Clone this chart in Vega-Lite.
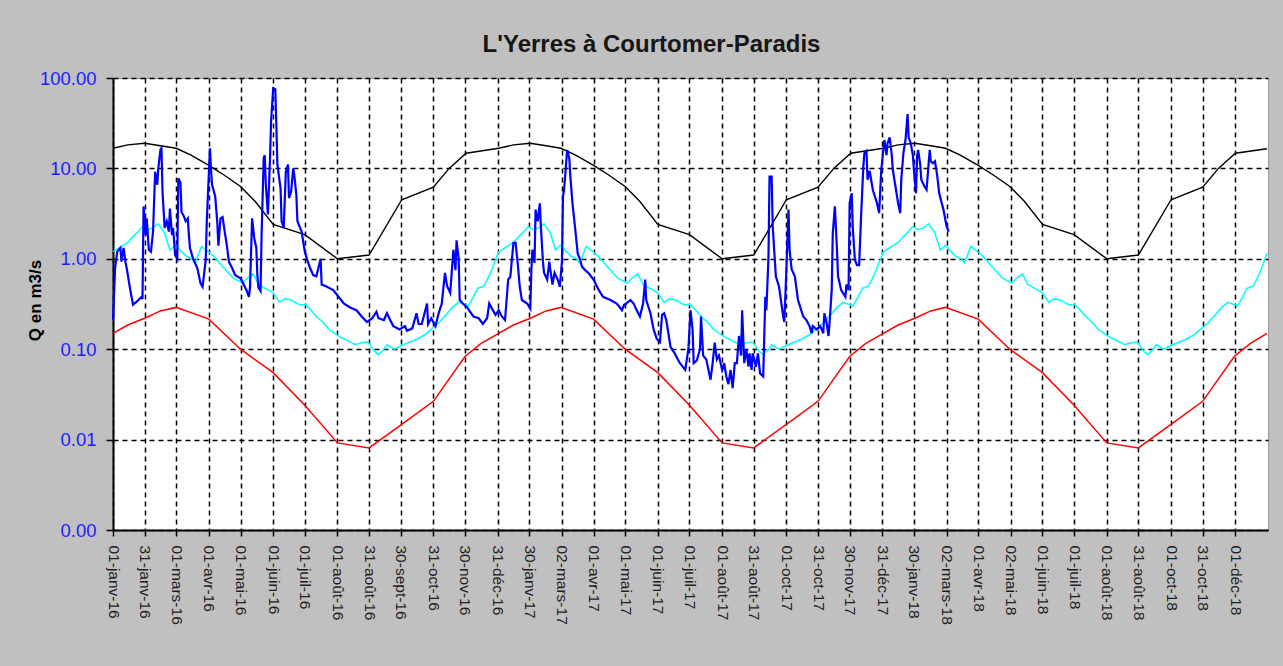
{
"$schema": "https://vega.github.io/schema/vega-lite/v6.json",
"width": 1155, "height": 452,
"autosize": {"type": "none"},
"padding": {"left": 113, "top": 78, "right": 15, "bottom": 136},
"background": "#c0c0c0",
"title": {"text": "L'Yerres à Courtomer-Paradis", "font": "Liberation Sans", "fontSize": 24, "fontWeight": "bold", "color": "#161616", "anchor": "middle", "frame": "group", "dx": -39, "offset": 12},
"config": {
 "view": {"fill": "#ffffff", "stroke": "#9a9a9a", "strokeWidth": 1},
 "font": "Liberation Sans",
 "locale": {"time": {"dateTime": "%A %e %B %Y à %X", "date": "%d/%m/%Y", "time": "%H:%M:%S", "periods": ["AM","PM"], "days": ["dimanche","lundi","mardi","mercredi","jeudi","vendredi","samedi"], "shortDays": ["dim.","lun.","mar.","mer.","jeu.","ven.","sam."], "months": ["janvier","février","mars","avril","mai","juin","juillet","août","septembre","octobre","novembre","décembre"], "shortMonths": ["janv","févr","mars","avr","mai","juin","juil","août","sept","oct","nov","déc"]}}
},
"datasets": {
"maxi": [
{"date":"2016-01-01","q":16.7},{"date":"2016-01-15","q":18.2},{"date":"2016-01-31","q":19},{"date":"2016-02-15","q":17.8},{"date":"2016-03-01","q":16.7},{"date":"2016-03-15","q":14},{"date":"2016-04-01","q":10.8},{"date":"2016-04-15","q":8.5},{"date":"2016-05-01","q":6.3},{"date":"2016-05-15","q":4.3},{"date":"2016-06-01","q":2.4},{"date":"2016-07-01","q":1.85},{"date":"2016-08-01","q":1.0},{"date":"2016-08-31","q":1.1},{"date":"2016-10-01","q":4.5},{"date":"2016-10-31","q":6.2},{"date":"2016-11-15","q":10},{"date":"2016-12-01","q":14.7},
{"date":"2017-01-01","q":16.7},{"date":"2017-01-15","q":18.2},{"date":"2017-01-31","q":19},{"date":"2017-02-15","q":17.8},{"date":"2017-03-01","q":16.7},{"date":"2017-03-15","q":14},{"date":"2017-04-01","q":10.8},{"date":"2017-04-15","q":8.5},{"date":"2017-05-01","q":6.3},{"date":"2017-05-15","q":4.3},{"date":"2017-06-01","q":2.4},{"date":"2017-07-01","q":1.85},{"date":"2017-08-01","q":1.0},{"date":"2017-08-31","q":1.1},{"date":"2017-10-01","q":4.5},{"date":"2017-10-31","q":6.2},{"date":"2017-11-15","q":10},{"date":"2017-12-01","q":14.7},
{"date":"2018-01-01","q":16.7},{"date":"2018-01-15","q":18.2},{"date":"2018-01-31","q":19},{"date":"2018-02-15","q":17.8},{"date":"2018-03-01","q":16.7},{"date":"2018-03-15","q":14},{"date":"2018-04-01","q":10.8},{"date":"2018-04-15","q":8.5},{"date":"2018-05-01","q":6.3},{"date":"2018-05-15","q":4.3},{"date":"2018-06-01","q":2.4},{"date":"2018-07-01","q":1.85},{"date":"2018-08-01","q":1.0},{"date":"2018-08-31","q":1.1},{"date":"2018-10-01","q":4.5},{"date":"2018-10-31","q":6.2},{"date":"2018-11-15","q":10},{"date":"2018-12-01","q":14.7},{"date":"2018-12-31","q":16.5}
],
"mini": [
{"date":"2016-01-01","q":0.15},{"date":"2016-01-15","q":0.185},{"date":"2016-01-31","q":0.22},{"date":"2016-02-15","q":0.265},{"date":"2016-03-01","q":0.29},{"date":"2016-04-01","q":0.215},{"date":"2016-05-01","q":0.1},{"date":"2016-06-01","q":0.055},{"date":"2016-07-01","q":0.024},{"date":"2016-08-01","q":0.0092},{"date":"2016-08-31","q":0.0081},{"date":"2016-10-01","q":0.0147},{"date":"2016-10-31","q":0.0265},{"date":"2016-11-15","q":0.047},{"date":"2016-11-30","q":0.083},{"date":"2016-12-15","q":0.115},
{"date":"2017-01-01","q":0.15},{"date":"2017-01-15","q":0.185},{"date":"2017-01-31","q":0.22},{"date":"2017-02-15","q":0.265},{"date":"2017-03-01","q":0.29},{"date":"2017-04-01","q":0.215},{"date":"2017-05-01","q":0.1},{"date":"2017-06-01","q":0.055},{"date":"2017-07-01","q":0.024},{"date":"2017-08-01","q":0.0092},{"date":"2017-08-31","q":0.0081},{"date":"2017-10-01","q":0.0147},{"date":"2017-10-31","q":0.0265},{"date":"2017-11-15","q":0.047},{"date":"2017-11-30","q":0.083},{"date":"2017-12-15","q":0.115},
{"date":"2018-01-01","q":0.15},{"date":"2018-01-15","q":0.185},{"date":"2018-01-31","q":0.22},{"date":"2018-02-15","q":0.265},{"date":"2018-03-01","q":0.29},{"date":"2018-04-01","q":0.215},{"date":"2018-05-01","q":0.1},{"date":"2018-06-01","q":0.055},{"date":"2018-07-01","q":0.024},{"date":"2018-08-01","q":0.0092},{"date":"2018-08-31","q":0.0081},{"date":"2018-10-01","q":0.0147},{"date":"2018-10-31","q":0.0265},{"date":"2018-11-15","q":0.047},{"date":"2018-11-30","q":0.083},{"date":"2018-12-15","q":0.115},{"date":"2018-12-31","q":0.15}
],
"mediane": [
{"date":"2016-01-01","q":1.2},{"date":"2016-01-06","q":1.3},{"date":"2016-01-11","q":1.42},{"date":"2016-01-16","q":1.55},{"date":"2016-01-20","q":1.76},{"date":"2016-01-25","q":2.0},{"date":"2016-01-29","q":2.27},{"date":"2016-02-03","q":2.1},{"date":"2016-02-08","q":2.2},{"date":"2016-02-13","q":2.44},{"date":"2016-02-19","q":1.92},{"date":"2016-02-24","q":1.25},{"date":"2016-03-01","q":1.42},{"date":"2016-03-06","q":1.2},{"date":"2016-03-11","q":1.06},{"date":"2016-03-16","q":1.0},{"date":"2016-03-19","q":0.9},{"date":"2016-03-25","q":1.37},{"date":"2016-04-02","q":1.16},{"date":"2016-04-06","q":1.05},{"date":"2016-04-11","q":0.9},{"date":"2016-04-17","q":0.75},{"date":"2016-04-24","q":0.61},{"date":"2016-05-03","q":0.54},{"date":"2016-05-08","q":0.62},{"date":"2016-05-13","q":0.68},{"date":"2016-05-18","q":0.52},{"date":"2016-05-22","q":0.49},{"date":"2016-06-01","q":0.42},{"date":"2016-06-07","q":0.33},{"date":"2016-06-12","q":0.36},{"date":"2016-06-18","q":0.35},{"date":"2016-06-26","q":0.31},{"date":"2016-07-02","q":0.31},{"date":"2016-07-07","q":0.27},{"date":"2016-07-12","q":0.23},{"date":"2016-07-18","q":0.2},{"date":"2016-07-24","q":0.165},{"date":"2016-08-03","q":0.138},{"date":"2016-08-10","q":0.125},{"date":"2016-08-18","q":0.112},{"date":"2016-08-24","q":0.118},{"date":"2016-08-30","q":0.12},{"date":"2016-09-05","q":0.095},{"date":"2016-09-09","q":0.087},{"date":"2016-09-14","q":0.1},{"date":"2016-09-17","q":0.112},{"date":"2016-09-24","q":0.1},{"date":"2016-10-01","q":0.11},{"date":"2016-10-07","q":0.118},{"date":"2016-10-15","q":0.128},{"date":"2016-10-23","q":0.145},{"date":"2016-10-30","q":0.17},{"date":"2016-11-05","q":0.195},{"date":"2016-11-12","q":0.24},{"date":"2016-11-18","q":0.29},{"date":"2016-11-24","q":0.33},{"date":"2016-12-03","q":0.3},{"date":"2016-12-08","q":0.38},{"date":"2016-12-12","q":0.47},{"date":"2016-12-18","q":0.5},{"date":"2016-12-23","q":0.65},{"date":"2016-12-27","q":0.85},
{"date":"2017-01-01","q":1.2},{"date":"2017-01-06","q":1.3},{"date":"2017-01-11","q":1.42},{"date":"2017-01-16","q":1.55},{"date":"2017-01-20","q":1.76},{"date":"2017-01-25","q":2.0},{"date":"2017-01-29","q":2.27},{"date":"2017-02-03","q":2.1},{"date":"2017-02-08","q":2.2},{"date":"2017-02-13","q":2.44},{"date":"2017-02-19","q":1.92},{"date":"2017-02-24","q":1.25},{"date":"2017-03-01","q":1.42},{"date":"2017-03-06","q":1.2},{"date":"2017-03-11","q":1.06},{"date":"2017-03-16","q":1.0},{"date":"2017-03-19","q":0.9},{"date":"2017-03-25","q":1.37},{"date":"2017-04-02","q":1.16},{"date":"2017-04-06","q":1.05},{"date":"2017-04-11","q":0.9},{"date":"2017-04-17","q":0.75},{"date":"2017-04-24","q":0.61},{"date":"2017-05-03","q":0.54},{"date":"2017-05-08","q":0.62},{"date":"2017-05-13","q":0.68},{"date":"2017-05-18","q":0.52},{"date":"2017-05-22","q":0.49},{"date":"2017-06-01","q":0.42},{"date":"2017-06-07","q":0.33},{"date":"2017-06-12","q":0.36},{"date":"2017-06-18","q":0.35},{"date":"2017-06-26","q":0.31},{"date":"2017-07-02","q":0.31},{"date":"2017-07-07","q":0.27},{"date":"2017-07-12","q":0.23},{"date":"2017-07-18","q":0.2},{"date":"2017-07-24","q":0.165},{"date":"2017-08-03","q":0.138},{"date":"2017-08-10","q":0.125},{"date":"2017-08-18","q":0.112},{"date":"2017-08-24","q":0.118},{"date":"2017-08-30","q":0.12},{"date":"2017-09-05","q":0.095},{"date":"2017-09-09","q":0.087},{"date":"2017-09-14","q":0.1},{"date":"2017-09-17","q":0.112},{"date":"2017-09-24","q":0.1},{"date":"2017-10-01","q":0.11},{"date":"2017-10-07","q":0.118},{"date":"2017-10-15","q":0.128},{"date":"2017-10-23","q":0.145},{"date":"2017-10-30","q":0.17},{"date":"2017-11-05","q":0.195},{"date":"2017-11-12","q":0.24},{"date":"2017-11-18","q":0.29},{"date":"2017-11-24","q":0.33},{"date":"2017-12-03","q":0.3},{"date":"2017-12-08","q":0.38},{"date":"2017-12-12","q":0.47},{"date":"2017-12-18","q":0.5},{"date":"2017-12-23","q":0.65},{"date":"2017-12-27","q":0.85},
{"date":"2018-01-01","q":1.2},{"date":"2018-01-06","q":1.3},{"date":"2018-01-11","q":1.42},{"date":"2018-01-16","q":1.55},{"date":"2018-01-20","q":1.76},{"date":"2018-01-25","q":2.0},{"date":"2018-01-29","q":2.27},{"date":"2018-02-03","q":2.1},{"date":"2018-02-08","q":2.2},{"date":"2018-02-13","q":2.44},{"date":"2018-02-19","q":1.92},{"date":"2018-02-24","q":1.25},{"date":"2018-03-01","q":1.42},{"date":"2018-03-06","q":1.2},{"date":"2018-03-11","q":1.06},{"date":"2018-03-16","q":1.0},{"date":"2018-03-19","q":0.9},{"date":"2018-03-25","q":1.37},{"date":"2018-04-02","q":1.16},{"date":"2018-04-06","q":1.05},{"date":"2018-04-11","q":0.9},{"date":"2018-04-17","q":0.75},{"date":"2018-04-24","q":0.61},{"date":"2018-05-03","q":0.54},{"date":"2018-05-08","q":0.62},{"date":"2018-05-13","q":0.68},{"date":"2018-05-18","q":0.52},{"date":"2018-05-22","q":0.49},{"date":"2018-06-01","q":0.42},{"date":"2018-06-07","q":0.33},{"date":"2018-06-12","q":0.36},{"date":"2018-06-18","q":0.35},{"date":"2018-06-26","q":0.31},{"date":"2018-07-02","q":0.31},{"date":"2018-07-07","q":0.27},{"date":"2018-07-12","q":0.23},{"date":"2018-07-18","q":0.2},{"date":"2018-07-24","q":0.165},{"date":"2018-08-03","q":0.138},{"date":"2018-08-10","q":0.125},{"date":"2018-08-18","q":0.112},{"date":"2018-08-24","q":0.118},{"date":"2018-08-30","q":0.12},{"date":"2018-09-05","q":0.095},{"date":"2018-09-09","q":0.087},{"date":"2018-09-14","q":0.1},{"date":"2018-09-17","q":0.112},{"date":"2018-09-24","q":0.1},{"date":"2018-10-01","q":0.11},{"date":"2018-10-07","q":0.118},{"date":"2018-10-15","q":0.128},{"date":"2018-10-23","q":0.145},{"date":"2018-10-30","q":0.17},{"date":"2018-11-05","q":0.195},{"date":"2018-11-12","q":0.24},{"date":"2018-11-18","q":0.29},{"date":"2018-11-24","q":0.33},{"date":"2018-12-03","q":0.3},{"date":"2018-12-08","q":0.38},{"date":"2018-12-12","q":0.47},{"date":"2018-12-18","q":0.5},{"date":"2018-12-23","q":0.65},{"date":"2018-12-27","q":0.85},{"date":"2018-12-31","q":1.15}
],
"debit": [
{"date":"2016-01-01","q":0.21},{"date":"2016-01-03","q":0.79},{"date":"2016-01-05","q":1.2},{"date":"2016-01-08","q":1.32},{"date":"2016-01-09","q":0.93},{"date":"2016-01-11","q":1.32},{"date":"2016-01-13","q":0.9},{"date":"2016-01-14","q":0.79},{"date":"2016-01-17","q":0.48},{"date":"2016-01-20","q":0.31},{"date":"2016-01-24","q":0.34},{"date":"2016-01-28","q":0.38},{"date":"2016-01-29","q":0.36},{"date":"2016-01-30","q":3.8},{"date":"2016-02-01","q":1.84},{"date":"2016-02-02","q":2.8},{"date":"2016-02-04","q":1.26},{"date":"2016-02-06","q":1.2},{"date":"2016-02-08","q":2.0},{"date":"2016-02-10","q":9.2},{"date":"2016-02-12","q":6.6},{"date":"2016-02-13","q":10},{"date":"2016-02-15","q":16},{"date":"2016-02-16","q":16.7},{"date":"2016-02-17","q":5.5},{"date":"2016-02-19","q":2.2},{"date":"2016-02-21","q":2.6},{"date":"2016-02-23","q":2.0},{"date":"2016-02-24","q":3.6},{"date":"2016-02-26","q":1.84},{"date":"2016-02-27","q":2.2},{"date":"2016-02-29","q":1.1},{"date":"2016-03-02","q":1.0},{"date":"2016-03-03","q":7.8},{"date":"2016-03-05","q":7.0},{"date":"2016-03-06","q":3.3},{"date":"2016-03-08","q":3.0},{"date":"2016-03-10","q":2.6},{"date":"2016-03-12","q":2.8},{"date":"2016-03-13","q":1.84},{"date":"2016-03-14","q":1.32},{"date":"2016-03-17","q":1.0},{"date":"2016-03-21","q":0.79},{"date":"2016-03-24","q":0.54},{"date":"2016-03-26","q":0.49},{"date":"2016-03-29","q":0.97},{"date":"2016-03-30","q":2.6},{"date":"2016-04-02","q":16.7},{"date":"2016-04-03","q":9.6},{"date":"2016-04-04","q":6.6},{"date":"2016-04-07","q":4.9},{"date":"2016-04-09","q":2.5},{"date":"2016-04-10","q":1.4},{"date":"2016-04-12","q":2.8},{"date":"2016-04-14","q":2.9},{"date":"2016-04-16","q":2.0},{"date":"2016-04-18","q":1.42},{"date":"2016-04-20","q":0.93},{"date":"2016-04-23","q":0.79},{"date":"2016-04-26","q":0.66},{"date":"2016-05-01","q":0.61},{"date":"2016-05-04","q":0.52},{"date":"2016-05-07","q":0.44},{"date":"2016-05-09","q":0.38},{"date":"2016-05-10","q":0.48},{"date":"2016-05-12","q":2.8},{"date":"2016-05-14","q":1.7},{"date":"2016-05-16","q":1.32},{"date":"2016-05-17","q":0.66},{"date":"2016-05-18","q":0.48},{"date":"2016-05-20","q":0.44},{"date":"2016-05-21","q":1.84},{"date":"2016-05-23","q":13},{"date":"2016-05-24","q":14},{"date":"2016-05-25","q":6.6},{"date":"2016-05-27","q":3.1},{"date":"2016-05-29","q":13},{"date":"2016-05-30","q":33},{"date":"2016-06-01","q":77},{"date":"2016-06-03","q":75},{"date":"2016-06-04","q":30},{"date":"2016-06-05","q":11},{"date":"2016-06-08","q":6.0},{"date":"2016-06-09","q":2.6},{"date":"2016-06-11","q":2.2},{"date":"2016-06-13","q":9.2},{"date":"2016-06-15","q":11},{"date":"2016-06-16","q":4.7},{"date":"2016-06-18","q":5.5},{"date":"2016-06-20","q":10},{"date":"2016-06-21","q":8.5},{"date":"2016-06-23","q":5.1},{"date":"2016-06-24","q":2.6},{"date":"2016-06-28","q":2.0},{"date":"2016-07-01","q":1.2},{"date":"2016-07-03","q":1.0},{"date":"2016-07-06","q":0.79},{"date":"2016-07-09","q":0.66},{"date":"2016-07-12","q":0.64},{"date":"2016-07-16","q":1.0},{"date":"2016-07-17","q":0.52},{"date":"2016-07-22","q":0.49},{"date":"2016-07-28","q":0.45},{"date":"2016-08-02","q":0.38},{"date":"2016-08-07","q":0.32},{"date":"2016-08-13","q":0.29},{"date":"2016-08-19","q":0.27},{"date":"2016-08-24","q":0.23},{"date":"2016-08-29","q":0.2},{"date":"2016-09-03","q":0.22},{"date":"2016-09-07","q":0.26},{"date":"2016-09-09","q":0.22},{"date":"2016-09-14","q":0.21},{"date":"2016-09-17","q":0.25},{"date":"2016-09-20","q":0.21},{"date":"2016-09-23","q":0.18},{"date":"2016-09-29","q":0.165},{"date":"2016-10-04","q":0.18},{"date":"2016-10-06","q":0.16},{"date":"2016-10-11","q":0.17},{"date":"2016-10-15","q":0.25},{"date":"2016-10-17","q":0.19},{"date":"2016-10-20","q":0.19},{"date":"2016-10-25","q":0.32},{"date":"2016-10-26","q":0.19},{"date":"2016-10-29","q":0.22},{"date":"2016-11-02","q":0.18},{"date":"2016-11-05","q":0.25},{"date":"2016-11-08","q":0.32},{"date":"2016-11-11","q":0.7},{"date":"2016-11-13","q":0.5},{"date":"2016-11-16","q":0.42},{"date":"2016-11-19","q":1.26},{"date":"2016-11-21","q":0.75},{"date":"2016-11-22","q":1.6},{"date":"2016-11-24","q":1.0},{"date":"2016-11-25","q":0.35},{"date":"2016-11-28","q":0.32},{"date":"2016-12-02","q":0.29},{"date":"2016-12-08","q":0.23},{"date":"2016-12-13","q":0.22},{"date":"2016-12-17","q":0.19},{"date":"2016-12-21","q":0.22},{"date":"2016-12-23","q":0.32},{"date":"2016-12-25","q":0.29},{"date":"2016-12-29","q":0.24},
{"date":"2017-01-01","q":0.27},{"date":"2017-01-04","q":0.23},{"date":"2017-01-07","q":0.21},{"date":"2017-01-10","q":0.59},{"date":"2017-01-12","q":0.63},{"date":"2017-01-15","q":1.5},{"date":"2017-01-17","q":1.5},{"date":"2017-01-19","q":0.9},{"date":"2017-01-21","q":0.49},{"date":"2017-01-23","q":0.35},{"date":"2017-01-28","q":0.32},{"date":"2017-01-31","q":0.28},{"date":"2017-02-01","q":0.76},{"date":"2017-02-02","q":1.26},{"date":"2017-02-04","q":0.9},{"date":"2017-02-05","q":3.5},{"date":"2017-02-07","q":2.6},{"date":"2017-02-09","q":4.1},{"date":"2017-02-10","q":2.3},{"date":"2017-02-12","q":0.93},{"date":"2017-02-13","q":0.7},{"date":"2017-02-16","q":0.59},{"date":"2017-02-18","q":0.93},{"date":"2017-02-19","q":0.76},{"date":"2017-02-21","q":0.52},{"date":"2017-02-23","q":0.7},{"date":"2017-02-26","q":0.59},{"date":"2017-02-28","q":0.49},{"date":"2017-03-02","q":0.93},{"date":"2017-03-03","q":4.9},{"date":"2017-03-04","q":5.7},{"date":"2017-03-06","q":11.4},{"date":"2017-03-07","q":16},{"date":"2017-03-09","q":13},{"date":"2017-03-10","q":8.1},{"date":"2017-03-12","q":4.1},{"date":"2017-03-14","q":2.5},{"date":"2017-03-17","q":1.14},{"date":"2017-03-19","q":1.0},{"date":"2017-03-21","q":0.82},{"date":"2017-03-24","q":0.75},{"date":"2017-03-27","q":0.7},{"date":"2017-04-01","q":0.59},{"date":"2017-04-06","q":0.45},{"date":"2017-04-10","q":0.38},{"date":"2017-04-17","q":0.35},{"date":"2017-04-23","q":0.32},{"date":"2017-04-28","q":0.27},{"date":"2017-04-30","q":0.31},{"date":"2017-05-02","q":0.32},{"date":"2017-05-06","q":0.35},{"date":"2017-05-09","q":0.32},{"date":"2017-05-12","q":0.27},{"date":"2017-05-15","q":0.23},{"date":"2017-05-18","q":0.32},{"date":"2017-05-20","q":0.59},{"date":"2017-05-21","q":0.35},{"date":"2017-05-25","q":0.25},{"date":"2017-05-28","q":0.165},{"date":"2017-05-31","q":0.13},{"date":"2017-06-03","q":0.12},{"date":"2017-06-05","q":0.24},{"date":"2017-06-07","q":0.25},{"date":"2017-06-09","q":0.21},{"date":"2017-06-11","q":0.15},{"date":"2017-06-13","q":0.106},{"date":"2017-06-17","q":0.09},{"date":"2017-06-20","q":0.077},{"date":"2017-06-22","q":0.07},{"date":"2017-06-27","q":0.059},{"date":"2017-06-30","q":0.1},{"date":"2017-07-02","q":0.27},{"date":"2017-07-04","q":0.165},{"date":"2017-07-05","q":0.07},{"date":"2017-07-08","q":0.075},{"date":"2017-07-11","q":0.1},{"date":"2017-07-12","q":0.23},{"date":"2017-07-14","q":0.085},{"date":"2017-07-17","q":0.077},{"date":"2017-07-21","q":0.046},{"date":"2017-07-23","q":0.07},{"date":"2017-07-25","q":0.118},{"date":"2017-07-27","q":0.077},{"date":"2017-07-29","q":0.085},{"date":"2017-08-01","q":0.059},{"date":"2017-08-03","q":0.07},{"date":"2017-08-05","q":0.05},{"date":"2017-08-07","q":0.041},{"date":"2017-08-09","q":0.059},{"date":"2017-08-11","q":0.037},{"date":"2017-08-13","q":0.07},{"date":"2017-08-15","q":0.07},{"date":"2017-08-17","q":0.14},{"date":"2017-08-19","q":0.085},{"date":"2017-08-20","q":0.27},{"date":"2017-08-22","q":0.07},{"date":"2017-08-24","q":0.1},{"date":"2017-08-26","q":0.064},{"date":"2017-08-27","q":0.09},{"date":"2017-08-29","q":0.059},{"date":"2017-08-30","q":0.09},{"date":"2017-09-02","q":0.064},{"date":"2017-09-04","q":0.09},{"date":"2017-09-06","q":0.054},{"date":"2017-09-09","q":0.05},{"date":"2017-09-11","q":0.38},{"date":"2017-09-12","q":0.27},{"date":"2017-09-14","q":1.05},{"date":"2017-09-15","q":8.1},{"date":"2017-09-17","q":8.1},{"date":"2017-09-18","q":2.3},{"date":"2017-09-21","q":0.64},{"date":"2017-09-24","q":0.49},{"date":"2017-09-28","q":0.23},{"date":"2017-09-29","q":0.2},{"date":"2017-10-01","q":0.76},{"date":"2017-10-03","q":3.5},{"date":"2017-10-04","q":1.26},{"date":"2017-10-06","q":0.76},{"date":"2017-10-09","q":0.64},{"date":"2017-10-12","q":0.35},{"date":"2017-10-17","q":0.23},{"date":"2017-10-20","q":0.21},{"date":"2017-10-23","q":0.18},{"date":"2017-10-25","q":0.15},{"date":"2017-10-26","q":0.18},{"date":"2017-10-30","q":0.165},{"date":"2017-11-02","q":0.18},{"date":"2017-11-05","q":0.15},{"date":"2017-11-06","q":0.25},{"date":"2017-11-08","q":0.2},{"date":"2017-11-10","q":0.14},{"date":"2017-11-11","q":0.2},{"date":"2017-11-13","q":0.45},{"date":"2017-11-14","q":1.9},{"date":"2017-11-16","q":3.8},{"date":"2017-11-18","q":1.26},{"date":"2017-11-19","q":0.64},{"date":"2017-11-22","q":0.45},{"date":"2017-11-26","q":0.38},{"date":"2017-11-27","q":0.52},{"date":"2017-11-29","q":0.45},{"date":"2017-11-30","q":4.1},{"date":"2017-12-02","q":5.3},{"date":"2017-12-03","q":2.2},{"date":"2017-12-05","q":0.97},{"date":"2017-12-07","q":0.85},{"date":"2017-12-09","q":0.85},{"date":"2017-12-11","q":3.2},{"date":"2017-12-13","q":10.4},{"date":"2017-12-14","q":14.7},{"date":"2017-12-16","q":15.6},{"date":"2017-12-17","q":7.5},{"date":"2017-12-19","q":9.4},{"date":"2017-12-21","q":6.8},{"date":"2017-12-22","q":5.8},{"date":"2017-12-26","q":4.1},{"date":"2017-12-28","q":3.2},{"date":"2017-12-30","q":9.6},
{"date":"2018-01-01","q":16},{"date":"2018-01-02","q":20.6},{"date":"2018-01-04","q":14},{"date":"2018-01-05","q":19},{"date":"2018-01-07","q":22},{"date":"2018-01-09","q":14},{"date":"2018-01-10","q":9.6},{"date":"2018-01-13","q":5.8},{"date":"2018-01-15","q":4.1},{"date":"2018-01-17","q":3.2},{"date":"2018-01-18","q":7.5},{"date":"2018-01-20","q":14.7},{"date":"2018-01-22","q":20.6},{"date":"2018-01-24","q":40},{"date":"2018-01-25","q":22},{"date":"2018-01-27","q":19},{"date":"2018-01-29","q":14},{"date":"2018-01-30","q":9.6},{"date":"2018-02-01","q":5.3},{"date":"2018-02-02","q":13.5},{"date":"2018-02-03","q":16},{"date":"2018-02-05","q":11},{"date":"2018-02-06","q":7.5},{"date":"2018-02-09","q":6.3},{"date":"2018-02-11","q":5.8},{"date":"2018-02-14","q":16},{"date":"2018-02-15","q":12},{"date":"2018-02-17","q":11.4},{"date":"2018-02-19","q":12},{"date":"2018-02-21","q":8.5},{"date":"2018-02-23","q":5.3},{"date":"2018-02-27","q":3.5},{"date":"2018-03-02","q":2.3},{"date":"2018-03-04","q":2.0}
]
},
"encoding": {
 "x": {"field": "date", "type": "temporal",
  "scale": {"type": "utc", "domain": [{"year": 2016, "month": 1, "date": 1, "utc": true}, {"year": 2019, "month": 1, "date": 1, "utc": true}]},
  "axis": {"title": null, "format": "%d-%b-%y",
   "values": [
    {"year":2016,"month":1,"date":1,"utc":true},{"year":2016,"month":1,"date":31,"utc":true},{"year":2016,"month":3,"date":1,"utc":true},{"year":2016,"month":4,"date":1,"utc":true},{"year":2016,"month":5,"date":1,"utc":true},{"year":2016,"month":6,"date":1,"utc":true},{"year":2016,"month":7,"date":1,"utc":true},{"year":2016,"month":8,"date":1,"utc":true},{"year":2016,"month":8,"date":31,"utc":true},{"year":2016,"month":9,"date":30,"utc":true},{"year":2016,"month":10,"date":31,"utc":true},{"year":2016,"month":11,"date":30,"utc":true},{"year":2016,"month":12,"date":31,"utc":true},
    {"year":2017,"month":1,"date":30,"utc":true},{"year":2017,"month":3,"date":2,"utc":true},{"year":2017,"month":4,"date":1,"utc":true},{"year":2017,"month":5,"date":1,"utc":true},{"year":2017,"month":6,"date":1,"utc":true},{"year":2017,"month":7,"date":1,"utc":true},{"year":2017,"month":8,"date":1,"utc":true},{"year":2017,"month":8,"date":31,"utc":true},{"year":2017,"month":10,"date":1,"utc":true},{"year":2017,"month":10,"date":31,"utc":true},{"year":2017,"month":11,"date":30,"utc":true},{"year":2017,"month":12,"date":31,"utc":true},
    {"year":2018,"month":1,"date":30,"utc":true},{"year":2018,"month":3,"date":2,"utc":true},{"year":2018,"month":4,"date":1,"utc":true},{"year":2018,"month":5,"date":2,"utc":true},{"year":2018,"month":6,"date":1,"utc":true},{"year":2018,"month":7,"date":1,"utc":true},{"year":2018,"month":8,"date":1,"utc":true},{"year":2018,"month":8,"date":31,"utc":true},{"year":2018,"month":10,"date":1,"utc":true},{"year":2018,"month":10,"date":31,"utc":true},{"year":2018,"month":12,"date":1,"utc":true}
   ],
   "labelAngle": 90, "labelAlign": "left", "labelBaseline": "middle", "labelFontSize": 15.5, "labelColor": "#1e1e1e", "labelPadding": 9,
   "labelOverlap": false, "labelFlush": false, "labelBound": false,
   "tickSize": 6, "tickColor": "#000000", "tickWidth": 1.5,
   "domainColor": "#000000", "domainWidth": 2,
   "grid": true, "gridColor": "#000000", "gridDash": [5, 4], "gridWidth": 1.5}
 },
 "y": {"field": "q", "type": "quantitative",
  "scale": {"type": "log", "domain": [0.001, 100], "nice": false},
  "axis": {"values": [0.001, 0.01, 0.1, 1, 10, 100], "format": ".2f",
   "labelFontSize": 18.5, "labelColor": "#1c1cff", "labelPadding": 10,
   "labelOverlap": false, "labelFlush": false, "labelBound": false,
   "tickSize": 7, "tickColor": "#000000", "tickWidth": 1.5,
   "domainColor": "#000000", "domainWidth": 2,
   "grid": true, "gridColor": "#000000", "gridDash": [5, 4], "gridWidth": 1.5,
   "title": "Q en m3/s", "titleFontSize": 17, "titleFontWeight": "bold", "titleColor": "#000000",
   "titleX": -78, "titleY": 222, "titleAngle": -90, "titleAlign": "center", "titleBaseline": "middle"}
 }
},
"layer": [
 {"data": {"name": "maxi"}, "mark": {"type": "line", "color": "#000000", "strokeWidth": 1.4}},
 {"data": {"name": "mediane"}, "mark": {"type": "line", "color": "#00ffff", "strokeWidth": 1.5}},
 {"data": {"name": "mini"}, "mark": {"type": "line", "color": "#ff0000", "strokeWidth": 1.5}},
 {"data": {"name": "debit"}, "mark": {"type": "line", "color": "#0000ff", "strokeWidth": 2.2}}
]
}
